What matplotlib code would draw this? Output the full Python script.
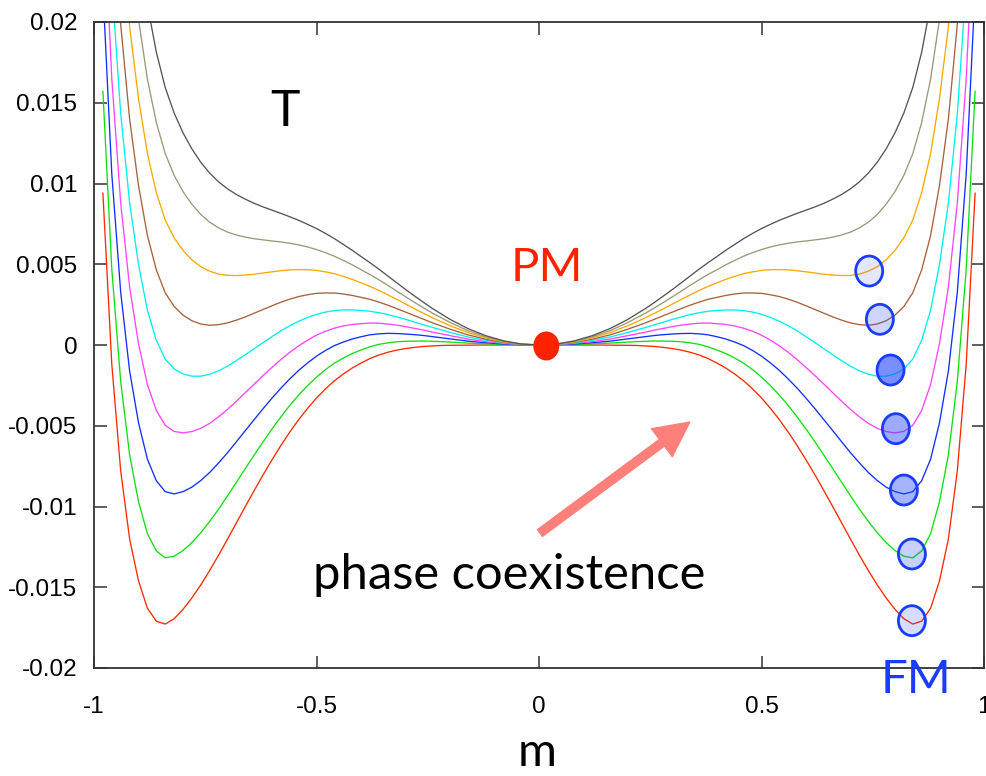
import numpy as np
import matplotlib
matplotlib.use("Agg")
import matplotlib.pyplot as plt
from matplotlib.patches import Ellipse, FancyArrowPatch

# ---------------- data ----------------
# sampled magnetisation m >= 0; curves are symmetric, f(-m) = f(m)
m_half = [0, .04, .08, .12, .16, .20, .22, .24, .26, .28, .30, .32, .34, .36,
          .38, .40, .42, .44, .46, .48, .50, .52, .54, .56, .58, .60, .62, .64,
          .66, .68, .70, .72, .74, .76, .78, .80, .82, .84, .86, .88, .90, .92,
          .94, .96, .98]

# free energy f(m) in units of 1e-3, from lowest T (red) to highest T (gray)
f_red = [0, 0, 0, 0, -0.01, -0.02, -0.03, -0.06, -0.09, -0.15, -0.22, -0.32,
         -0.45, -0.62, -0.84, -1.12, -1.43, -1.80, -2.22, -2.72, -3.28, -3.92,
         -4.62, -5.39, -6.22, -7.11, -8.04, -9.01, -10.00, -11.01, -12.02,
         -13.01, -13.96, -14.85, -15.66, -16.37, -16.95, -17.28, -17.10, -16.30,
         -14.60, -12.00, -7.80, -1.20, 9.40]
f_green = [0, 0.01, 0.03, 0.07, 0.12, 0.18, 0.21, 0.23, 0.25, 0.24, 0.23, 0.20,
           0.13, 0.04, -0.11, -0.31, -0.53, -0.81, -1.13, -1.53, -1.99, -2.51,
           -3.10, -3.74, -4.45, -5.20, -5.99, -6.81, -7.65, -8.50, -9.34,
           -10.16, -10.92, -11.62, -12.23, -12.73, -13.08, -13.18, -12.75,
           -11.68, -9.70, -6.80, -2.27, 4.69, 15.71]
f_blue = [0, 0.02, 0.06, 0.14, 0.24, 0.38, 0.45, 0.52, 0.59, 0.64, 0.68, 0.71,
          0.72, 0.69, 0.63, 0.51, 0.37, 0.18, -0.04, -0.34, -0.69, -1.11, -1.57,
          -2.10, -2.67, -3.29, -3.94, -4.62, -5.30, -5.99, -6.67, -7.30, -7.89,
          -8.39, -8.80, -9.08, -9.22, -9.08, -8.40, -7.07, -4.81, -1.60, 3.26,
          10.58, 22.02]
f_magenta = [0, 0.02, 0.10, 0.21, 0.37, 0.58, 0.69, 0.80, 0.93, 1.03, 1.14,
             1.23, 1.30, 1.35, 1.36, 1.32, 1.27, 1.18, 1.04, 0.85, 0.61, 0.30,
             -0.05, -0.45, -0.90, -1.39, -1.89, -2.42, -2.95, -3.48, -3.99,
             -4.45, -4.85, -5.16, -5.36, -5.44, -5.35, -4.97, -4.05, -2.45, 0.09,
             3.60, 8.78, 16.47, 28.32]
f_cyan = [0, 0.03, 0.13, 0.29, 0.50, 0.78, 0.94, 1.09, 1.26, 1.42, 1.59, 1.74,
          1.89, 2.00, 2.09, 2.14, 2.17, 2.17, 2.13, 2.04, 1.90, 1.71, 1.47, 1.19,
          0.88, 0.52, 0.15, -0.23, -0.60, -0.97, -1.31, -1.60, -1.81, -1.93,
          -1.93, -1.79, -1.48, -0.87, 0.30, 2.16, 4.99, 8.80, 14.31, 22.37, 34.63]
f_brown = [0, 0.04, 0.16, 0.36, 0.63, 0.98, 1.18, 1.38, 1.60, 1.82, 2.04, 2.26,
           2.47, 2.66, 2.83, 2.95, 3.07, 3.16, 3.22, 3.22, 3.20, 3.11, 3.00,
           2.84, 2.65, 2.43, 2.20, 1.97, 1.74, 1.54, 1.37, 1.26, 1.22, 1.30,
           1.50, 1.85, 2.39, 3.23, 4.66, 6.78, 9.88, 14.00, 19.84, 28.26, 40.94]
f_orange = [0, 0.05, 0.19, 0.44, 0.77, 1.20, 1.44, 1.70, 1.97, 2.25, 2.54, 2.83,
            3.11, 3.38, 3.63, 3.85, 4.07, 4.25, 4.42, 4.53, 4.62, 4.66, 4.67,
            4.65, 4.60, 4.53, 4.46, 4.38, 4.33, 4.30, 4.31, 4.39, 4.57, 4.85,
            5.27, 5.86, 6.64, 7.74, 9.44, 11.85, 15.27, 19.72, 25.92, 34.74,
            47.88]
f_olive = [0, 0.06, 0.23, 0.51, 0.89, 1.40, 1.69, 1.98, 2.31, 2.64, 2.99, 3.34,
           3.70, 4.04, 4.37, 4.66, 4.97, 5.24, 5.50, 5.72, 5.91, 6.07, 6.20,
           6.30, 6.38, 6.44, 6.51, 6.58, 6.68, 6.81, 6.99, 7.25, 7.60, 8.08,
           8.71, 9.50, 10.51, 11.85, 13.79, 16.47, 20.17, 24.92, 31.45, 40.63,
           54.19]
f_gray = [0, 0.06, 0.26, 0.58, 1.02, 1.59, 1.93, 2.27, 2.65, 3.04, 3.44, 3.86,
          4.28, 4.70, 5.10, 5.48, 5.87, 6.23, 6.59, 6.91, 7.21, 7.47, 7.72, 7.94,
          8.15, 8.35, 8.55, 8.77, 9.03, 9.32, 9.67, 10.10, 10.64, 11.31, 12.14,
          13.14, 14.37, 15.95, 18.14, 21.08, 25.06, 30.12, 36.98, 46.52, 60.49]

curves = [f_red, f_green, f_blue, f_magenta, f_cyan, f_brown, f_orange, f_olive, f_gray]
curve_colors = ['#ff2a00', '#10e010', '#1030ff', '#ff44ff', '#00f0f0',
                '#a8623a', '#ffa800', '#9a9a78', '#555555']

# FM (ferromagnetic) minima markers
fm_m = [0.742, 0.766, 0.790, 0.802, 0.820, 0.838, 0.838]
fm_f = [0.00458, 0.00159, -0.00155, -0.00518, -0.00898, -0.01294, -0.01707]
fm_alpha = [0.12, 0.22, 0.60, 0.45, 0.40, 0.25, 0.18]

# PM point
pm_m, pm_f = 0.0164, -0.00006

x_ticks = [-1, -0.5, 0, 0.5, 1]
x_ticklabels = ['-1', '-0.5', '0', '0.5', '1']
y_ticks = [-0.02, -0.015, -0.01, -0.005, 0, 0.005, 0.01, 0.015, 0.02]
y_ticklabels = ['-0.02', '-0.015', '-0.01', '-0.005', '0', '0.005', '0.01', '0.015', '0.02']

# ---------------- figure ----------------
W, H = 986, 776
fig = plt.figure(figsize=(W / 100, H / 100), dpi=100)
ax = fig.add_axes([94 / W, 1 - 668 / H, 890 / W, 646 / H])

m_arr = np.array(m_half)
m_full = np.concatenate([-m_arr[:0:-1], m_arr])
for vals, col in zip(curves, curve_colors):
    v = np.array(vals)
    v_full = np.concatenate([v[:0:-1], v]) * 1e-3
    ax.plot(m_full, v_full, color=col, lw=0.95, zorder=2)

ax.set_xlim(-1, 1)
ax.set_ylim(-0.02, 0.02)
ax.set_xticks(x_ticks)
ax.set_xticklabels(x_ticklabels)
ax.set_yticks(y_ticks)
ax.set_yticklabels(y_ticklabels)
for sp in ax.spines.values():
    sp.set_color('#333333')
    sp.set_linewidth(1.3)
ax.tick_params(direction='in', length=9, width=1.1, color='#333333',
               top=True, right=True, labelsize=17.5)
ax.tick_params(axis='x', pad=20)
ax.tick_params(axis='y', pad=12)
for lab in ax.get_xticklabels() + ax.get_yticklabels():
    lab.set_family(['Liberation Sans', 'DejaVu Sans'])

# FM circles
xw = 27 / 445.0
yh = 30 / 16150.0
for mm, ff, al in zip(fm_m, fm_f, fm_alpha):
    e = Ellipse((mm, ff), xw, yh, facecolor=(0.13, 0.27, 1.0, al),
                edgecolor='#1a3cff', lw=2.0, zorder=4)
    ax.add_patch(e)

# PM dot
ax.add_patch(Ellipse((pm_m, pm_f), 26 / 445.0, 29 / 16150.0,
                     facecolor='#ff2200', edgecolor='none', zorder=5))

# arrow
arr = FancyArrowPatch((0.0022, -0.01164), (0.339, -0.00477),
                      arrowstyle='simple,head_length=25,head_width=25,tail_width=6',
                      mutation_scale=1, color='#ff7f7a', shrinkA=0, shrinkB=0,
                      zorder=3)
ax.add_patch(arr)

tfont = ['Lato', 'DejaVu Sans']
ax.text(-0.571, 0.01445, 'T', fontsize=36, family=tfont, color='black',
        ha='center', va='center')
ax.text(0.0173, 0.00475, 'PM', fontsize=34, family=tfont, color='#ff2200',
        ha='center', va='center')
ax.text(0.848, -0.02074, 'FM', fontsize=34, family=tfont, color='#1a3cff',
        ha='center', va='center', zorder=6)
ax.text(-0.0674, -0.01424, 'phase coexistence', fontsize=35.3, family=tfont,
        color='black', ha='center', va='center')

ax.set_xlabel('m', fontsize=34, family=tfont)
ax.xaxis.label.set_va('center')
ax.xaxis.set_label_coords(0.4983, (668 - 753) / 646)

fig.savefig('out.png', dpi=100)
